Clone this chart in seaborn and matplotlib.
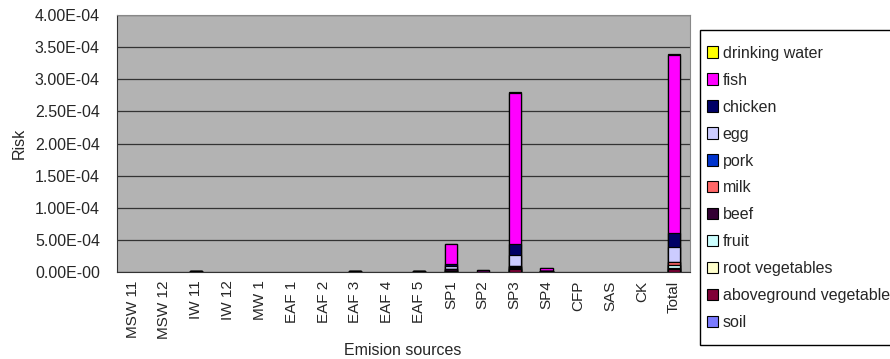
import numpy as np
import pandas as pd
import matplotlib
matplotlib.use("Agg")
import matplotlib.pyplot as plt
from matplotlib.patches import Patch, Rectangle
import seaborn as sns

# emission sources (x categories)
sources = ["MSW 11", "MSW 12", "IW 11", "IW 12", "MW 1", "EAF 1", "EAF 2", "EAF 3",
           "EAF 4", "EAF 5", "SP1", "SP2", "SP3", "SP4", "CFP", "SAS", "CK", "Total"]

# risk per exposure pathway (units of 1e-6)
soil           = [0, 0, 0, 0, 0, 0, 0, 0, 0, 0, 0, 0, 0, 0, 0, 0, 0, 0]
above_veg      = [0, 0, 0, 0, 0, 0, 0, 0, 0, 0, 1.5, 0.5, 4.5, 1.0, 0, 0, 0, 5.5]
root_veg       = [0, 0, 0, 0, 0, 0, 0, 0, 0, 0, 0, 0, 0.5, 0, 0, 0, 0, 0.5]
fruit          = [0, 0, 0, 0, 0, 0, 0, 0, 0, 0, 0.5, 0, 1.5, 0, 0, 0, 0, 4.5]
beef           = [0, 0, 1.5, 0, 0, 0, 0, 2.5, 0, 1.0, 3.0, 0, 1.5, 0, 0, 0, 0, 1.0]
milk           = [0, 0, 0, 0, 0, 0, 0, 0, 0, 0, 0.5, 0, 2.0, 0, 0, 0, 0, 4.5]
pork           = [0, 0, 0, 0, 0, 0, 0, 0, 0, 0, 0, 0, 0, 0, 0, 0, 0, 0.5]
egg            = [0, 0, 0, 0, 0, 0, 0, 0, 0, 0, 3.5, 0, 17.0, 0, 0, 0, 0, 23.0]
chicken        = [0, 0, 0, 0, 0, 0, 0, 0, 0, 0, 3.0, 0, 17.0, 0, 0, 0, 0, 22.0]
fish           = [0, 0, 0, 0, 0, 0, 0, 0, 0, 0, 31.0, 3.5, 235.0, 5.0, 0, 0, 0, 277.0]
drinking_water = [0, 0, 0, 0, 0, 0, 0, 0, 0, 0, 0.5, 0, 1.0, 0, 0, 0, 0, 1.0]

# stacking order bottom -> top
components = ["soil", "aboveground vegetables", "root vegetables", "fruit", "beef",
              "milk", "pork", "egg", "chicken", "fish", "drinking water"]
values = [soil, above_veg, root_veg, fruit, beef, milk, pork, egg, chicken, fish, drinking_water]
colors = ["#7b7bff", "#800037", "#ffffcc", "#ccffff", "#330033",
          "#ff6666", "#0033cc", "#ccccff", "#000066", "#ff00ff", "#ffff00"]

ytick_labels = ["0.00E-00", "5.00E-04", "1.00E-04", "1.50E-04", "2.00E-04",
                "2.50E-04", "3.00E-04", "3.50E-04", "4.00E-04"]

sns.set_style("white")
plt.rcParams["font.family"] = ["Liberation Sans", "DejaVu Sans"]

df = pd.DataFrame({c: np.array(v) * 1e-6 for c, v in zip(components, values)})
df["source"] = sources
cum = df[components].cumsum(axis=1)
cum = cum.where(cum > 0)  # no empty bars

fig = plt.figure(figsize=(8.9, 3.59), dpi=100)
ax = fig.add_axes([0.131, 0.242, 0.644, 0.716])
ax.set_facecolor("#b3b3b3")

# draw cumulative totals from the top component down so each layer overlays the next
for comp, col in reversed(list(zip(components, colors))):
    sns.barplot(x=df["source"], y=cum[comp], color=col, saturation=1, width=0.38,
                edgecolor="black", linewidth=0.9, ax=ax, order=sources, zorder=3)

ax.set_ylim(0, 4e-4)
ax.set_xlim(-0.5, len(sources) - 0.5)
ax.set_yticks(np.arange(0, 4.01e-4, 0.5e-4))
ax.set_yticklabels(ytick_labels, fontsize=11.5)
ax.set_xticks(range(len(sources)))
ax.set_xticklabels(sources, rotation=90, fontsize=11)
ax.tick_params(axis="x", length=0, pad=6)
ax.tick_params(axis="y", length=3, direction="out", color="#333333", pad=9)
ax.set_xticks(np.arange(0.5, len(sources) - 0.5, 1), minor=True)
ax.tick_params(axis="x", which="minor", direction="in", length=4, color="#333333")
ax.yaxis.grid(True, color="#333333", linewidth=0.9, zorder=1)
ax.set_axisbelow(True)
for side in ["top", "right"]:
    ax.spines[side].set_color("#888888")
    ax.spines[side].set_linewidth(0.8)
ax.spines["left"].set_color("#333333")
ax.spines["bottom"].set_color("#333333")

ax.set_xlabel("Emision sources", fontsize=11.5, labelpad=3)
ax.set_ylabel("Risk", fontsize=11.5, labelpad=6)

# legend box (runs off the right edge like the original)
fig.patches.append(Rectangle((700 / 890, 1 - 345 / 359), 0.3, 315 / 359,
                             transform=fig.transFigure, facecolor="white",
                             edgecolor="black", linewidth=1.0, zorder=0))

handles = [Patch(facecolor=c, edgecolor="black", linewidth=0.8, label=l)
           for l, c in zip(components, colors)][::-1]
leg = fig.legend(handles=handles, loc="upper left", bbox_to_anchor=(0.794, 0.873),
                 frameon=False, fontsize=11.5, handlelength=0.7,
                 handleheight=0.7, handletextpad=0.3, labelspacing=0.75,
                 borderpad=0, borderaxespad=0)

fig.savefig("out.png", dpi=100)
